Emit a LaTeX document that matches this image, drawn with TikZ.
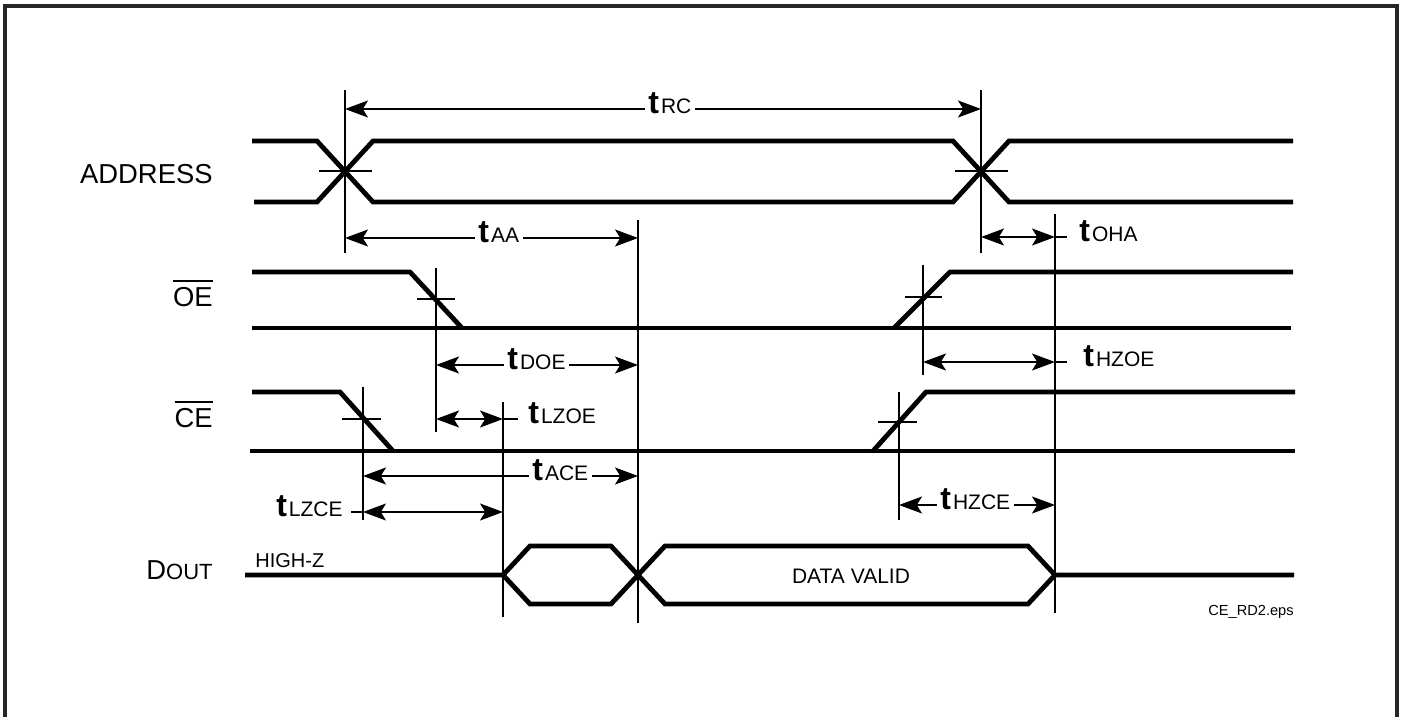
\documentclass[tikz,border=0pt]{standalone}
\usepackage{fontspec}
\setmainfont{Liberation Sans}
\usetikzlibrary{arrows.meta}
\newcommand\tlab[1]{{\fontsize{16pt}{16pt}\selectfont\bfseries t}\kern1pt{\fontsize{10.5pt}{10.5pt}\selectfont #1}}
\newcommand\ovl[1]{\leavevmode\vbox{\hrule height 0.8pt\kern 2.6pt\hbox{#1}}}
\begin{document}
\begin{tikzpicture}[x=0.5pt,y=-0.5pt,
  sig/.style={line width=2.4pt, line join=miter},
  thinln/.style={line width=0.65pt},
  dimline/.style={line width=0.65pt, {Stealth[length=11.5pt,width=8.5pt,inset=2.6pt]}-{Stealth[length=11.5pt,width=8.5pt,inset=2.6pt]}},
  tl/.style={fill=white, inner xsep=1.8pt, inner ysep=0.6pt, anchor=base west},
  tlw/.style={inner sep=0pt, anchor=base west},
  signame/.style={inner sep=0pt, anchor=base east, font=\fontsize{13.7pt}{14pt}\selectfont},
  small/.style={inner sep=0pt, font=\fontsize{10pt}{11pt}\selectfont}
]
\useasboundingbox (0,0) rectangle (1402,717);
% frame
\draw[line width=1.6pt, black!85] (5,725) -- (5,6) -- (1397,6) -- (1397,725);

% signal names
\node[signame] (addr) at (213,184) {ADDRESS};
\node[signame] (oe) at (213,306) {\ovl{OE}};
\node[signame] (ce) at (213,427) {\ovl{CE}};
\node[signame] (dout) at (213,579) {D{\fontsize{11pt}{11pt}\selectfont OUT}};

% ADDRESS
\draw[sig] (252,141) -- (317,141) -- (373,202) -- (953,202) -- (1009,141) -- (1293,141);
\draw[sig] (254,202) -- (317,202) -- (373,141) -- (953,141) -- (1009,202) -- (1293,202);
% OE
\draw[sig] (252,272) -- (410,272) -- (462,328);
\draw[sig] (252,328) -- (1291,328);
\draw[sig] (894,328) -- (950,272) -- (1293,272);
% CE
\draw[sig] (252,392) -- (340,392) -- (393,451);
\draw[sig] (250,451) -- (1295,451);
\draw[sig] (873,451) -- (926,392) -- (1295,392);
% DOUT
\draw[sig] (245,575) -- (503,575) -- (530,546) -- (611,546) -- (638,575) -- (665,604) -- (1028,604) -- (1055,575) -- (1294,575);
\draw[sig] (503,575) -- (530,604) -- (611,604) -- (638,575) -- (665,546) -- (1028,546) -- (1055,575);

% marker lines
\coordinate (vA1t) at (345,90);   \coordinate (vA1b) at (345,253);
\coordinate (vA2t) at (981,90);   \coordinate (vA2b) at (981,253);
\coordinate (vAAt) at (638,220);  \coordinate (vAAb) at (638,623);
\coordinate (vOHt) at (1055,214); \coordinate (vOHb) at (1055,613);
\coordinate (vOFt) at (436,268);  \coordinate (vOFb) at (436,432);
\coordinate (vORt) at (923,265);  \coordinate (vORb) at (923,375);
\coordinate (vCFt) at (363,387);  \coordinate (vCFb) at (363,520);
\coordinate (vCRt) at (899,392);  \coordinate (vCRb) at (899,520);
\coordinate (vLZt) at (503,402);  \coordinate (vLZb) at (503,617);
\foreach \a in {vA1,vA2,vAA,vOH,vOF,vOR,vCF,vCR,vLZ} \draw[thinln] (\a t) -- (\a b);
% crossing ticks
\draw[thinln] (319,171) -- (372,171);
\draw[thinln] (955,171) -- (1008,171);
\draw[thinln] (417,299) -- (455,299);
\draw[thinln] (905,297) -- (942,297);
\draw[thinln] (342,419) -- (381,419);
\draw[thinln] (878,422) -- (917,422);

% timing dimensions
\draw[dimline] (345,109) -- (981,109);
\node[tl] (tRC) at (644.4,113.5) {\tlab{RC}};
\draw[dimline] (345,238) -- (638,238);
\node[tl] (tAA) at (474.4,242.5) {\tlab{AA}};
\draw[dimline] (981,237) -- (1055,237);
\draw[thinln] (1055,237) -- (1067,237);
\node[tlw] (tOHA) at (1079,241.5) {\tlab{OHA}};
\draw[dimline] (436,365) -- (638,365);
\node[tl] (tDOE) at (503.4,369.5) {\tlab{DOE}};
\draw[dimline] (923,362) -- (1055,362);
\draw[thinln] (1055,362) -- (1067,362);
\node[tlw] (tHZOE) at (1083,366.5) {\tlab{HZOE}};
\draw[dimline] (436,419) -- (503,419);
\draw[thinln] (503,419) -- (518,419);
\node[tlw] (tLZOE) at (528,423.5) {\tlab{LZOE}};
\draw[dimline] (363,476) -- (638,476);
\node[tl] (tACE) at (528.4,480.5) {\tlab{ACE}};
\draw[dimline] (363,512) -- (503,512);
\draw[thinln] (351,512) -- (363,512);
\node[tlw, anchor=base east] (tLZCE) at (343,516.5) {\tlab{LZCE}};
\draw[dimline] (899,505) -- (1055,505);
\node[tl] (tHZCE) at (936.4,509.5) {\tlab{HZCE}};

% texts
\node[small, anchor=base west] (hz) at (255,567) {HIGH-Z};
\node[small, font=\fontsize{10.5pt}{11pt}\selectfont] (dv) at (851,576) {DATA VALID};
\node[inner sep=0pt, anchor=base east, font=\fontsize{7.3pt}{8pt}\selectfont] (fn) at (1294,615) {CE\_RD2.eps};
\end{tikzpicture}
\end{document}
